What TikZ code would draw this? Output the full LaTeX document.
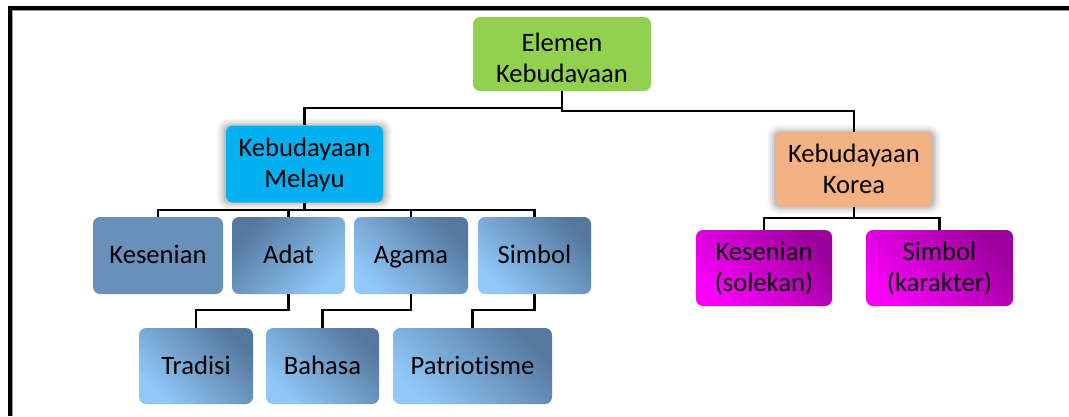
\documentclass[tikz,border=0pt]{standalone}
\usepackage{fontspec}
\setmainfont[Ligatures={NoCommon}]{Carlito}
\usetikzlibrary{shadows.blur}
\definecolor{cgreen}{HTML}{92D050}
\definecolor{ccyan}{HTML}{00B0F0}
\definecolor{corange}{HTML}{F4B183}
\definecolor{csteel}{HTML}{6A8FBB}
\definecolor{cdark}{HTML}{56789F}
\definecolor{clight}{HTML}{90C8F8}
\definecolor{cmagL}{HTML}{F800F8}
\definecolor{cmagD}{HTML}{9C009C}
\newcommand{\st}{\rule[-7pt]{0pt}{30pt}}
\tikzset{
  box/.style={rounded corners=7pt, inner sep=0pt, align=center, text=black,
    font=\fontsize{26.6}{29}\selectfont},
  shad/.style={blur shadow={shadow xshift=0pt, shadow yshift=0pt, shadow blur radius=6pt, shadow opacity=35, shadow scale=1.04}},
  bluedl/.style={left color=cdark, right color=clight, shading angle=45},
  blueld/.style={left color=clight, right color=cdark, shading angle=135},
  magbox/.style={left color=cmagL, right color=cmagD, shading angle=135},
  conn/.style={line width=2.3pt, black},
}
\begin{document}
\begin{tikzpicture}[x=1pt,y=-1pt]
\useasboundingbox (0,0) rectangle (1069,416);
% frame
\draw[line width=1.5pt, black!40] (12,416) -- (12,10.5) -- (1069,10.5);
\draw[line width=3.2pt] (10,416) -- (10,8) -- (1069,8);
% nodes
\node[box, fill=cgreen, minimum width=178pt, minimum height=74pt] (E) at (562,54) {};
\begin{scope}
\clip (473,17) rectangle (651,82);
\node[box] (Etext) at (562,58.5) {\st Elemen\\Kebudayaan\st};
\end{scope}
\node[box, shad, fill=ccyan, minimum width=157pt, minimum height=77pt] (M) at (304.5,164) {\st Kebudayaan\\Melayu\st};
\node[box, shad, fill=corange, minimum width=156pt, minimum height=75pt] (K) at (854,169.5) {\st Kebudayaan\\Korea\st};
\node[box, fill=csteel, minimum width=130pt, minimum height=77pt] (Kes) at (158,255.5) {\st Kesenian};
\node[box, bluedl, minimum width=113pt, minimum height=77pt] (Adat) at (288.5,255.5) {\st Adat};
\node[box, blueld, minimum width=114pt, minimum height=77pt] (Agama) at (411,255.5) {\st Agama};
\node[box, blueld, minimum width=113pt, minimum height=77pt] (Simbol) at (534.5,255.5) {\st Simbol};
\node[box, magbox, minimum width=136pt, minimum height=76pt] (KS) at (764,268) {\st Kesenian\\(solekan)\st};
\node[box, magbox, minimum width=147pt, minimum height=76pt] (SK) at (939.5,268) {\st Simbol\\(karakter)\st};
\node[box, blueld, minimum width=114pt, minimum height=76pt] (Tradisi) at (196,366) {\st Tradisi};
\node[box, blueld, minimum width=113pt, minimum height=76pt] (Bahasa) at (322.5,366) {\st Bahasa};
\node[box, blueld, minimum width=159pt, minimum height=76pt] (Patr) at (472.5,366) {\st Patriotisme};
% connectors
\draw[conn] (E.south) -- ++(0,17) -| (M.north);
\draw[conn] (E.south) -- ++(0,20) -| (K.north);
\foreach \c in {Kes,Adat,Agama,Simbol} \draw[conn] (M.south) -- ++(0,7) -| (\c.north);
\draw[conn] (Adat.south) -- ++(0,16) -| (Tradisi.north);
\draw[conn] (Agama.south) -- ++(0,16) -| (Bahasa.north);
\draw[conn] (Simbol.south) -- ++(0,16) -| (Patr.north);
\draw[conn] (K.south) -- ++(0,11) -| (KS.north);
\draw[conn] (K.south) -- ++(0,11) -| (SK.north);
\end{tikzpicture}
\end{document}
